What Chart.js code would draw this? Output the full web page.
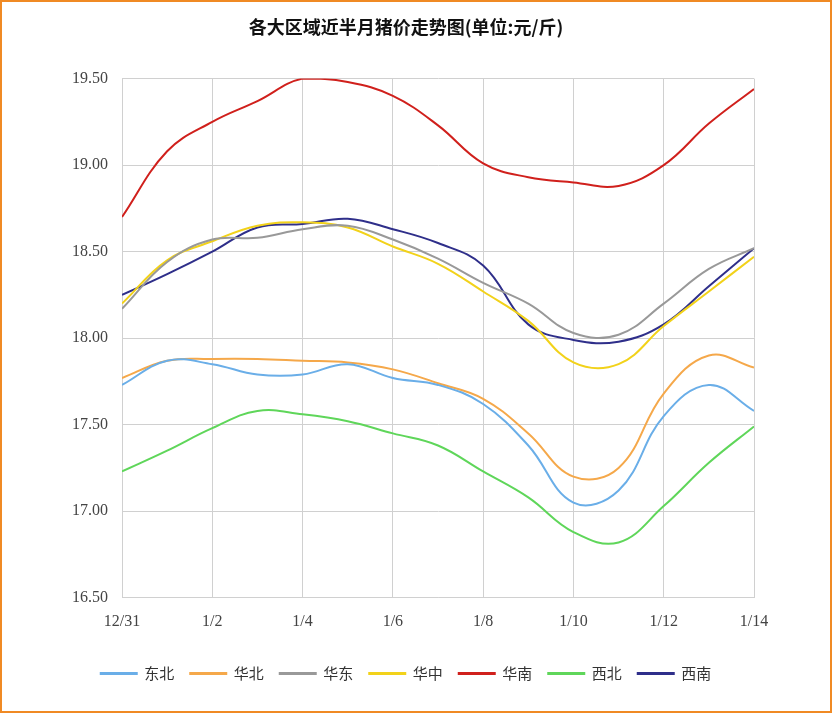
<!DOCTYPE html>
<html><head><meta charset="utf-8">
<script src="https://cdn.jsdelivr.net/npm/chart.js@4"></script>
<style>
html,body{margin:0;padding:0;background:#fff}
#wrap{position:absolute;left:0;top:0;width:828px;height:709px;border:2px solid #f08a24;}
</style></head><body>
<div id="wrap"><canvas id="c" width="828" height="709"></canvas></div>
<script>
const dates = ['12/31','1/1','1/2','1/3','1/4','1/5','1/6','1/7','1/8','1/9','1/10','1/11','1/12','1/13','1/14'];
const dongbei = [17.73,17.87,17.85,17.79,17.79,17.85,17.77,17.73,17.62,17.38,17.05,17.12,17.55,17.73,17.58];
const huabei = [17.77,17.87,17.88,17.88,17.87,17.86,17.82,17.74,17.65,17.45,17.20,17.25,17.68,17.90,17.83];
const huadong = [18.17,18.44,18.57,18.58,18.63,18.65,18.57,18.46,18.32,18.20,18.03,18.02,18.20,18.40,18.52];
const huazhong = [18.20,18.45,18.56,18.65,18.67,18.64,18.53,18.43,18.27,18.10,17.86,17.85,18.07,18.27,18.47];
const huanan = [18.70,19.08,19.25,19.37,19.50,19.48,19.40,19.23,19.01,18.93,18.90,18.88,19.00,19.24,19.44];
const xibei = [17.23,17.35,17.48,17.58,17.56,17.52,17.45,17.38,17.23,17.08,16.88,16.82,17.03,17.28,17.49];
const xinan = [18.25,18.37,18.50,18.64,18.66,18.69,18.63,18.55,18.42,18.08,17.99,17.98,18.08,18.30,18.52];

const series = [
  ['东北', dongbei, '#6aaee8'],
  ['华北', huabei, '#f5a84a'],
  ['华东', huadong, '#999999'],
  ['华中', huazhong, '#f2d21a'],
  ['华南', huanan, '#d0201c'],
  ['西北', xibei, '#5fd65a'],
  ['西南', xinan, '#2f2f8a']
];
const font = "'Noto Sans CJK SC', 'DejaVu Sans', sans-serif";
new Chart(document.getElementById('c'), {
  type: 'line',
  data: {
    datasets: series.map(s => ({
      label: s[0],
      data: s[1].map((v, i) => ({x: i, y: v})),
      borderColor: s[2], backgroundColor: s[2],
      borderWidth: 2, pointRadius: 0, tension: 0.4, fill: false
    }))
  },
  options: {
    responsive: false, animation: false,
    layout: { padding: { left: 56, right: 76, top: 6, bottom: 20 } },
    plugins: {
      title: { display: true, text: '各大区域近半月猪价走势图(单位:元/斤)', color: '#111',
        font: { family: font, size: 18, weight: 'bold' }, padding: { top: 8, bottom: 41 } },
      legend: { position: 'bottom',
        labels: { boxWidth: 36, boxHeight: 1, color: '#333', padding: 16, font: { family: font, size: 15 } } },
      tooltip: { enabled: false }
    },
    scales: {
      x: { type: 'linear', min: 0, max: 14,
        afterFit: s => { s.height += 5; },
        ticks: { stepSize: 2, color: '#444', padding: 14, font: { family: 'Liberation Serif', size: 16 },
          callback: v => dates[v] },
        grid: { color: '#d0d0d0', drawTicks: false }, border: { color: '#d0d0d0' } },
      y: { min: 16.5, max: 19.5,
        ticks: { stepSize: 0.5, color: '#444', padding: 14, font: { family: 'Liberation Serif', size: 16 },
          callback: v => v.toFixed(2) },
        grid: { color: '#d0d0d0', drawTicks: false }, border: { color: '#d0d0d0' } }
    }
  }
});
</script></body></html>
